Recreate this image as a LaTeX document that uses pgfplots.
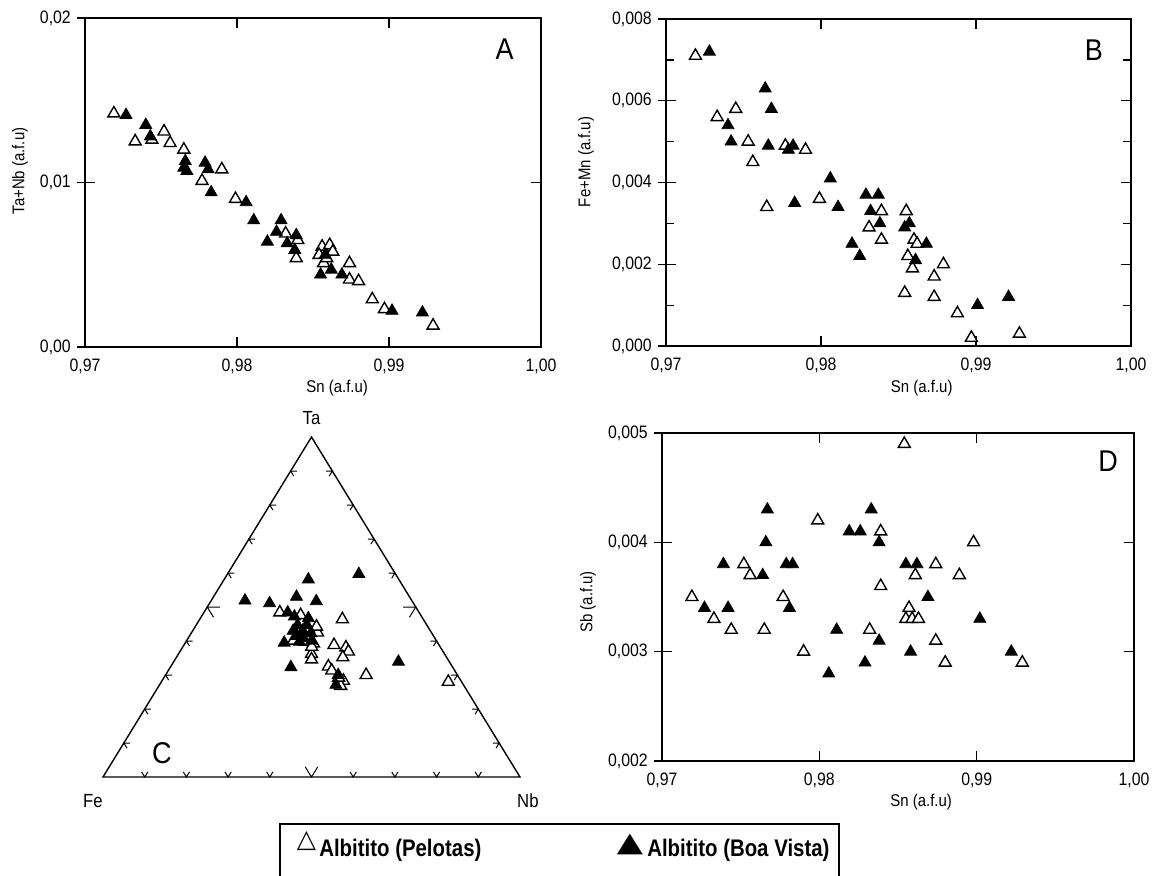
\documentclass[border=0pt]{standalone}
\usepackage{fontspec}
\setmainfont{Liberation Sans}
\newfontfamily\symbolfont{DejaVu Sans}
\usepackage{pgfplots}
\usepackage{pgfplotstable}
\pgfplotsset{compat=1.18}

% ---------- A: Sn vs Ta+Nb ----------
\pgfplotstableread{
sn     tanb
0.9719 0.0142
0.9733 0.0125
0.9744 0.0126
0.9752 0.0131
0.9756 0.0124
0.9765 0.0120
0.9790 0.0108
0.9777 0.0101
0.9799 0.0090
0.9832 0.0069
0.9840 0.0065
0.9839 0.0054
0.9856 0.0061
0.9861 0.0062
0.9863 0.0058
0.9857 0.0051
0.9874 0.0051
0.9874 0.0041
0.9880 0.0040
0.9889 0.0029
0.9897 0.0023
0.9929 0.0013
0.9854 0.0056
0.9859 0.0054
}\TaNbPel
\pgfplotstableread{
sn     tanb
0.9727 0.0141
0.9740 0.0135
0.9743 0.0128
0.9766 0.0113
0.9765 0.0109
0.9767 0.0107
0.9779 0.0112
0.9781 0.0108
0.9783 0.0094
0.9806 0.0088
0.9811 0.0077
0.9820 0.0064
0.9826 0.0070
0.9829 0.0077
0.9833 0.0063
0.9839 0.0068
0.9838 0.0059
0.9855 0.0044
0.9858 0.0056
0.9862 0.0047
0.9869 0.0044
0.9902 0.0022
0.9922 0.0021
}\TaNbBoa

% ---------- B: Sn vs Fe+Mn ----------
\pgfplotstableread{
sn     femn
0.9719 0.0071
0.9733 0.0056
0.9745 0.0058
0.9753 0.0050
0.9756 0.0045
0.9765 0.0034
0.9777 0.0049
0.9790 0.0048
0.9799 0.0036
0.9831 0.0029
0.9839 0.0033
0.9839 0.0026
0.9855 0.0033
0.9860 0.0026
0.9862 0.0025
0.9856 0.0022
0.9859 0.0019
0.9854 0.0013
0.9879 0.0020
0.9873 0.0017
0.9873 0.0012
0.9888 0.0008
0.9897 0.0002
0.9928 0.0003
}\FeMnPel
\pgfplotstableread{
sn     femn
0.9728 0.0072
0.9764 0.0063
0.9768 0.0058
0.9740 0.0054
0.9742 0.0050
0.9766 0.0049
0.9779 0.0048
0.9782 0.0049
0.9783 0.0035
0.9806 0.0041
0.9811 0.0034
0.9829 0.0037
0.9837 0.0037
0.9832 0.0033
0.9838 0.0030
0.9820 0.0025
0.9825 0.0022
0.9854 0.0029
0.9857 0.0030
0.9868 0.0025
0.9861 0.0021
0.9901 0.0010
0.9921 0.0012
}\FeMnBoa

% ---------- D: Sn vs Sb ----------
\pgfplotstableread{
sn     sb
0.9854 0.0049
0.9719 0.0035
0.9733 0.0033
0.9744 0.0032
0.9752 0.0038
0.9756 0.0037
0.9765 0.0032
0.9777 0.0035
0.9799 0.0042
0.9790 0.0030
0.9839 0.0041
0.9839 0.0036
0.9832 0.0032
0.9857 0.0034
0.9855 0.0033
0.9859 0.0033
0.9863 0.0033
0.9861 0.0037
0.9874 0.0038
0.9889 0.0037
0.9898 0.0040
0.9874 0.0031
0.9880 0.0029
0.9929 0.0029
}\SbPel
\pgfplotstableread{
sn     sb
0.9767 0.0043
0.9833 0.0043
0.9819 0.0041
0.9826 0.0041
0.9838 0.0040
0.9766 0.0040
0.9739 0.0038
0.9779 0.0038
0.9783 0.0038
0.9764 0.0037
0.9855 0.0038
0.9862 0.0038
0.9869 0.0035
0.9727 0.0034
0.9742 0.0034
0.9781 0.0034
0.9902 0.0033
0.9811 0.0032
0.9838 0.0031
0.9858 0.0030
0.9829 0.0029
0.9806 0.0028
0.9922 0.0030
}\SbBoa

% ---------- C: Ta - Nb - Fe (percent) ----------
\pgfplotstableread{
Ta   Nb   Fe
48.4 18.2 33.4
47.6 23.6 28.8
46.4 34.2 19.4
42.5 30.2 27.3
38.8 36.0 25.2
38.1 39.2 22.7
36.9 40.4 22.7
36.2 31.9 31.9
34.6 32.7 32.7
35.2 39.9 24.9
32.5 37.8 29.7
31.3 39.2 29.5
30.0 48.1 21.9
28.3 43.5 28.2
26.8 43.6 29.6
28.0 68.8 3.2
43.7 27.4 28.9
41.3 26.0 32.7
39.8 28.5 31.7
39.3 30.8 29.9
40.1 25.6 34.3
44.2 29.1 26.7
38.3 30.9 30.8
29.2 41.9 28.9
}\TerPel
\pgfplotstableread{
Ta   Nb   Fe
58.1 20.2 21.7
59.7 31.5 8.8
51.9 8.1  40.0
51.1 14.4 34.5
53.0 19.9 27.1
51.7 25.3 23.0
39.5 23.7 36.8
32.3 28.9 38.8
33.9 53.9 12.2
30.0 41.4 28.6
27.1 42.3 30.6
48.4 20.1 31.5
47.2 22.3 30.5
46.7 25.9 27.4
44.7 26.5 28.8
44.7 24.3 31.0
43.0 24.1 32.9
43.0 26.4 30.6
42.3 28.7 29.0
41.5 25.5 33.0
40.8 27.7 31.5
40.1 30.0 29.9
39.8 27.2 33.0
}\TerBoa

\tikzset{
  letter/.style={font=\fontsize{15}{18}\selectfont, xscale=0.9},
  lab/.style={font=\fontsize{9.5}{11}\selectfont, xscale=0.88},
}
\pgfplotsset{
  panel/.style={
    scale only axis, clip=false,
    xmin=0.97, xmax=1.00,
    xtick={0.97,0.98,0.99,1.00},
    scaled ticks=false,
    /pgf/number format/assume math mode=true,
    axis line style={line width=0.7pt},
    tick style={black, line width=0.6pt},
    tick align=inside,
    major tick length=5pt,
    minor tick length=4pt,
    xticklabel shift=2.5pt,
    yticklabel shift=4pt,
    tick label style={font=\fontsize{9}{10.8}\selectfont, xscale=0.88},
    xticklabel style={/pgf/number format/.cd, fixed, fixed zerofill, precision=2, use comma},
    label style={font=\fontsize{8.5}{10}\selectfont, xscale=0.88},
  },
  % short outward ticks on the left axis, drawn over the panel frame
  outer/.style={
    scale only axis, clip=false,
    xmin=0.97, xmax=1.00, xtick=\empty,
    scaled ticks=false,
    axis line style={draw=none},
    tick style={black, line width=0.6pt},
    tick align=outside, ytick pos=left,
    major tick length=4pt,
    yticklabels={},
  },
  geomA/.style={at={(42.5pt,-173.5pt)}, anchor=south west,
    width=228pt, height=164.5pt, ymin=0, ymax=0.02, ytick={0,0.01,0.02}},
  geomB/.style={at={(333pt,-173pt)}, anchor=south west,
    width=232.5pt, height=163.5pt, ymin=0, ymax=0.008, ytick={0,0.002,0.004,0.006,0.008}},
  geomD/.style={at={(331pt,-380.5pt)}, anchor=south west,
    width=236pt, height=164pt, ymin=0.002, ymax=0.005, ytick={0.002,0.003,0.004,0.005}},
  pel/.style={only marks, mark=triangle*, mark size=3.45pt,
    mark options={fill=white, draw=black, line width=0.7pt}},
  boa/.style={only marks, mark=triangle*, mark size=3.45pt,
    mark options={fill=black, draw=black, line width=0.4pt}},
}

\begin{document}
\begin{tikzpicture}
\path[use as bounding box] (0pt,0pt) rectangle (576.5pt,-437.5pt);

% ---- A ----
\begin{axis}[panel, geomA,
  yticklabel style={/pgf/number format/.cd, fixed, fixed zerofill, precision=2, use comma},
  xlabel={Sn (a.f.u)}, ylabel={Ta+Nb (a.f.u)},
  xlabel style={at={([yshift=-20.5pt]axis description cs:0.553,0)}, anchor=center},
  ylabel style={at={([xshift=-32.5pt]axis description cs:0,0.535)}, anchor=center},
]
\addplot[pel] table[x=sn, y=tanb] \TaNbPel;
\addplot[boa] table[x=sn, y=tanb] \TaNbBoa;
\node[letter] at (axis description cs:0.92,0.905) {A};
\end{axis}
\begin{axis}[outer, geomA]\end{axis}

% ---- B ----
\begin{axis}[panel, geomB,
  minor ytick={0.001,0.003,0.005,0.007},
  yticklabel style={/pgf/number format/.cd, fixed, fixed zerofill, precision=3, use comma},
  xlabel={Sn (a.f.u)}, ylabel={Fe+Mn (a.f.u)},
  xlabel style={at={([yshift=-21pt]axis description cs:0.55,0)}, anchor=center},
  ylabel style={at={([xshift=-40pt]axis description cs:0,0.563)}, anchor=center},
]
\addplot[pel] table[x=sn, y=femn] \FeMnPel;
\addplot[boa] table[x=sn, y=femn] \FeMnBoa;
\node[letter] at (axis description cs:0.92,0.905) {B};
\end{axis}
\begin{axis}[outer, geomB]\end{axis}

% ---- D ----
\begin{axis}[panel, geomD,
  yticklabel style={/pgf/number format/.cd, fixed, fixed zerofill, precision=3, use comma},
  xlabel={Sn (a.f.u)}, ylabel={Sb (a.f.u)},
  xlabel style={at={([yshift=-20.5pt]axis description cs:0.549,0)}, anchor=center},
  ylabel style={at={([xshift=-37pt]axis description cs:0,0.485)}, anchor=center},
]
\addplot[pel] table[x=sn, y=sb] \SbPel;
\addplot[boa] table[x=sn, y=sb] \SbBoa;
\node[letter] at (axis description cs:0.945,0.915) {D};
\end{axis}
\begin{axis}[outer, geomD]\end{axis}

% ---- C: ternary Ta-Nb-Fe ----
\begin{axis}[
  at={(51.5pt,-388.5pt)}, anchor=south west,
  scale only axis, width=208.5pt, height=170pt,
  xmin=0, xmax=100, ymin=0, ymax=100,
  axis lines=none, clip=false,
]
\draw[line width=0.7pt, line join=miter]
  (axis cs:0,0) -- (axis cs:100,0) -- (axis cs:50,100) -- cycle;
\pgfplotsinvokeforeach{1,2,3,4,6,7,8,9}{
  \draw[line width=0.5pt] (axis cs:{10*#1+0.75},1.5) -- (axis cs:{10*#1},0) -- (axis cs:{10*#1-0.75},1.5);
  \draw[line width=0.5pt] (axis cs:{5*#1+1.5},{10*#1}) -- (axis cs:{5*#1},{10*#1}) -- (axis cs:{5*#1+0.75},{10*#1-1.5});
  \draw[line width=0.5pt] (axis cs:{100-5*#1-1.5},{10*#1}) -- (axis cs:{100-5*#1},{10*#1}) -- (axis cs:{100-5*#1-0.75},{10*#1-1.5});
}
\draw[line width=0.5pt] (axis cs:51.5,3) -- (axis cs:50,0) -- (axis cs:48.5,3);
\draw[line width=0.5pt] (axis cs:28,50) -- (axis cs:25,50) -- (axis cs:26.5,47);
\draw[line width=0.5pt] (axis cs:72,50) -- (axis cs:75,50) -- (axis cs:73.5,47);
\addplot[pel] table[x expr=\thisrow{Nb}+0.5*\thisrow{Ta}, y expr=\thisrow{Ta}] \TerPel;
\addplot[boa] table[x expr=\thisrow{Nb}+0.5*\thisrow{Ta}, y expr=\thisrow{Ta}] \TerBoa;
\node[lab] at (axis cs:50,105.5) {Ta};
\node[lab] at (axis cs:-2.4,-7) {Fe};
\node[lab] at (axis cs:101.9,-7) {Nb};
\node[letter] at (axis cs:14.1,7) {C};
\end{axis}

% ---- legend ----
\draw[line width=1pt] (140pt,-412pt) rectangle (419.5pt,-460pt);
\node[font=\symbolfont\fontsize{12.5}{13}\selectfont, inner sep=0pt] at (153.3pt,-420.5pt) {△};
\node[anchor=base west, inner sep=0pt, font=\bfseries\fontsize{12}{14}\selectfont, xscale=0.85]
  at (159.5pt,-428pt) {Albitito (Pelotas)};
\node[font=\symbolfont\fontsize{17}{18}\selectfont, inner sep=0pt, yscale=0.8] at (315pt,-422pt) {▲};
\node[anchor=base west, inner sep=0pt, font=\bfseries\fontsize{12}{14}\selectfont, xscale=0.85]
  at (323.5pt,-428pt) {Albitito (Boa Vista)};
\end{tikzpicture}
\end{document}
